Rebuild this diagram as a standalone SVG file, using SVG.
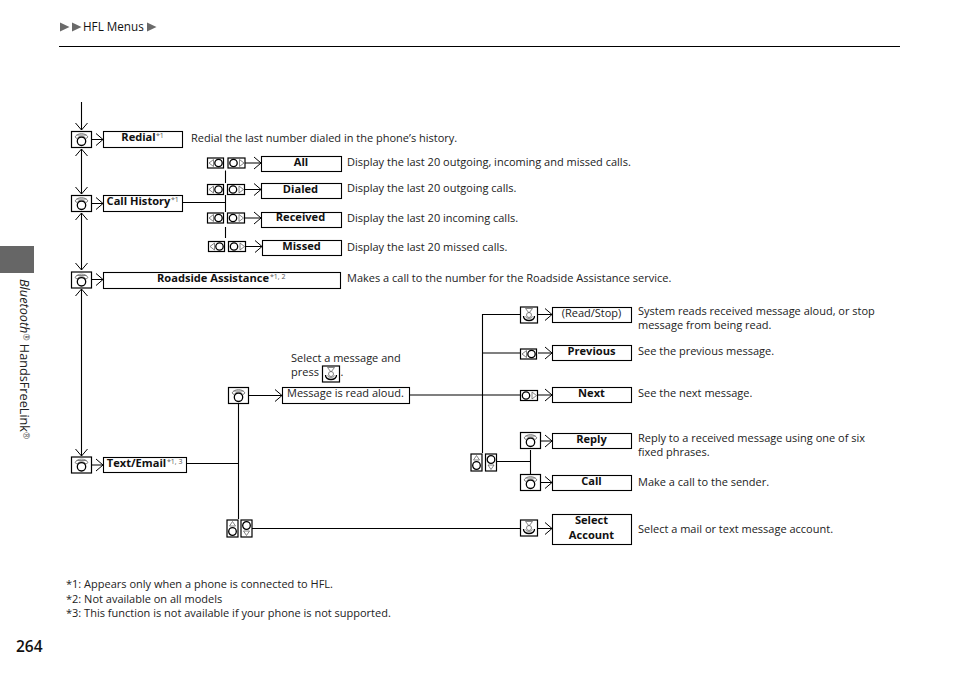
<svg xmlns="http://www.w3.org/2000/svg" width="954" height="674" viewBox="0 0 954 674">
<style>
text{font-family:"Open Sans","Noto Sans","Liberation Sans",sans-serif;font-size:11px;fill:#222}
.b{font-weight:700;text-anchor:middle;fill:#111;font-size:11.100px}
.c{text-anchor:middle}
.s{font-size:7px;font-weight:400;fill:#555}
.box{fill:#fff;stroke:#000;stroke-width:1.1}
.l{fill:none;stroke:#000;stroke-width:1.1}
.i{fill:#fff;stroke:#000;stroke-width:1.2}
.g{fill:none;stroke:#666;stroke-width:.8}
.k{fill:none;stroke:#000;stroke-width:1.300}
</style>
<defs>
<path id="ah" d="M-7,-6 L0,0 L-7,6" fill="none" stroke="#000" stroke-width="1"/>
<g id="phone"><rect class="i" x="0" y="0" width="20" height="16"/><path class="g" d="M3.500,5.500 C6,1 14,1 16.500,5.500 L14.500,7 C12.500,4 7.500,4 5.500,7 Z"/><path class="g" d="M5,3.500 L15,3.500"/><circle class="k" cx="10" cy="9.800" r="4.200"/></g>
<g id="voice"><rect class="i" x="0" y="0" width="17" height="16"/><path class="g" d="M5,1.500 L12,1.500 L8.500,6 Z"/><circle class="g" cx="8.500" cy="8" r="2.500"/><path class="k" d="M3,9 C2.500,15 14.500,15 14,9"/><path class="g" d="M5,9.500 C5.500,12 11.500,12 12,9.500"/></g>
<g id="left"><rect class="i" x="0" y="0" width="16" height="10"/><path class="g" d="M6,1.500 L1.500,5 L6,8.500 Z"/><circle class="k" cx="11" cy="5" r="3.700"/></g>
<g id="right"><rect class="i" x="0" y="0" width="17" height="10"/><path class="g" d="M11.500,1.500 L16,5 L11.500,8.500 Z"/><circle class="k" cx="5.500" cy="5" r="3.700"/></g>
<g id="up"><rect class="i" x="0" y="0" width="11" height="17"/><path class="g" d="M2.500,6 L5.500,1.500 L8.500,6 Z"/><circle class="k" cx="5.500" cy="11.500" r="3.800"/></g>
<g id="down"><rect class="i" x="0" y="0" width="11" height="17"/><path class="g" d="M2.500,11 L5.500,15.500 L8.500,11 Z"/><circle class="k" cx="5.500" cy="5.500" r="3.800"/></g>
<path id="tri" d="M0,0 L9.500,4.500 L0,9 Z" fill="#6a6a6a"/>
</defs>

<g id="page">
<rect x="0" y="246" width="34" height="27" fill="#666"/>
<line x1="59" y1="46.500" x2="900" y2="46.500" stroke="#000" stroke-width="1"/>
<use href="#tri" x="60" y="22.500"/><use href="#tri" x="72" y="22.500"/>
<text x="83" y="31" style="fill:#111;font-size:11.700px">HFL Menus</text>
<use href="#tri" x="147" y="22.500"/>
<text transform="translate(20,279) rotate(90)" style="font-size:12.700px"><tspan font-style="italic">Bluetooth</tspan><tspan class="s" style="font-size:8.500px" dy="-3">®</tspan><tspan dy="3"> HandsFreeLink</tspan><tspan class="s" style="font-size:8.500px" dy="-3">®</tspan></text>
<text x="16" y="652" style="font-size:15.500px;font-weight:600;fill:#111">264</text>
<text x="66" y="588">*1: Appears only when a phone is connected to HFL.</text>
<text x="66" y="603">*2: Not available on all models</text>
<text x="66" y="617">*3: This function is not available if your phone is not supported.</text>
</g>

<g id="connectors">
<path class="l" d="M81.500,102V130M81.500,149V194M81.500,213V270M81.500,289V456"/>
<g id="arrowheads-vertical">
<use href="#ah" transform="translate(81.500,130) rotate(90)"/>
<use href="#ah" transform="translate(81.500,149) rotate(-90)"/>
<use href="#ah" transform="translate(81.500,194) rotate(90)"/>
<use href="#ah" transform="translate(81.500,213) rotate(-90)"/>
<use href="#ah" transform="translate(81.500,270) rotate(90)"/>
<use href="#ah" transform="translate(81.500,289) rotate(-90)"/>
<use href="#ah" transform="translate(81.500,456) rotate(90)"/>
</g>
<path class="l" d="M92,139.500H103M92,203.500H103M92,279.500H103M92,465H103"/>
<use href="#ah" x="103" y="139.500"/><use href="#ah" x="103" y="203.500"/><use href="#ah" x="103" y="279.500"/><use href="#ah" x="103" y="465"/>
<path class="l" d="M183,202.500H225.500M225.500,170.500V183M225.500,195V212M225.500,227V238"/>
<path class="l" d="M245,163H261M244,189.500H261M244,218H261M245,246.500H262"/>
<use href="#ah" x="261" y="163"/><use href="#ah" x="261" y="189.500"/><use href="#ah" x="261" y="218"/><use href="#ah" x="262" y="246.500"/>
<path class="l" d="M186,463.500H238.500M238.500,404V519M249,395.500H282M252,528.500H520"/>
<use href="#ah" x="282" y="395.500"/>
<path class="l" d="M409,395H520M482.500,314V453M482.500,314.500H520M482.500,353H520"/>
<path class="l" d="M497,461.500H530.500M530.500,450V474"/>
<path class="l" d="M538,314.500H552M538,353H552M538,395H552M541,441H552M541,482.500H552M538,528.500H552"/>
<use href="#ah" x="552" y="314.500"/><use href="#ah" x="552" y="353"/><use href="#ah" x="552" y="395"/><use href="#ah" x="552" y="441"/><use href="#ah" x="552" y="482.500"/><use href="#ah" x="552" y="528.500"/>
</g>

<g id="node-redial"><use href="#phone" x="71.500" y="131.500"/><rect class="box" x="103.500" y="131.500" width="79" height="16"/><text class="b" x="138.500" y="141">Redial</text><text class="s" x="156" y="137.500">*1</text><text x="191" y="142">Redial the last number dialed in the phone’s history.</text></g>
<g id="node-callhistory"><use href="#phone" x="71.500" y="195.500"/><rect class="box" x="103.500" y="195.500" width="79" height="16"/><text class="b" x="138.500" y="205">Call History</text><text class="s" x="171" y="201.500">*1</text></g>
<g id="node-all"><use href="#left" x="207.500" y="158"/><use href="#right" x="228" y="158"/><rect class="box" x="261.500" y="156.500" width="80" height="15"/><text class="b" x="301" y="166">All</text><text x="347" y="166">Display the last 20 outgoing, incoming and missed calls.</text></g>
<g id="node-dialed"><use href="#left" x="207.500" y="184.500"/><use href="#right" x="227.500" y="184.500"/><rect class="box" x="261.500" y="183.500" width="80" height="15"/><text class="b" x="300.500" y="193">Dialed</text><text x="347" y="192">Display the last 20 outgoing calls.</text></g>
<g id="node-received"><use href="#left" x="207.500" y="213"/><use href="#right" x="227.500" y="213"/><rect class="box" x="261.500" y="212.500" width="80" height="15"/><text class="b" x="300.500" y="221">Received</text><text x="347" y="222">Display the last 20 incoming calls.</text></g>
<g id="node-missed"><use href="#left" x="208.500" y="241.500"/><use href="#right" x="228.500" y="241.500"/><rect class="box" x="262.500" y="240.500" width="79" height="15"/><text class="b" x="301.500" y="250">Missed</text><text x="347" y="251">Display the last 20 missed calls.</text></g>
<g id="node-roadside"><use href="#phone" x="71.500" y="272"/><rect class="box" x="103.500" y="272.500" width="237" height="16"/><text class="b" x="213" y="282">Roadside Assistance</text><text class="s" x="270" y="278.500">*1, 2</text><text x="347" y="282">Makes a call to the number for the Roadside Assistance service.</text></g>
<g id="node-textemail"><use href="#phone" x="71.500" y="457"/><rect class="box" x="103.500" y="457.500" width="83" height="15"/><text class="b" x="136.500" y="467">Text/Email</text><text class="s" x="167" y="464">*1, 3</text></g>
<g id="node-phone-message"><use href="#phone" x="228.500" y="387.500"/><rect class="box" x="282.500" y="387.500" width="127" height="16"/><text x="287" y="397">Message is read aloud.</text><text x="291" y="362">Select a message and</text><text x="291" y="376">press</text><use href="#voice" x="322.500" y="366"/><text x="340.500" y="376">.</text></g>
<g id="node-updown-account"><use href="#up" x="227" y="520"/><use href="#down" x="241" y="520"/></g>
<g id="node-readstop"><use href="#voice" x="520.500" y="307"/><rect class="box" x="552.500" y="307.500" width="79" height="15"/><text class="c" x="591.500" y="317">(Read/Stop)</text><text x="638" y="315">System reads received message aloud, or stop</text><text x="638" y="329">message from being read.</text></g>
<g id="node-previous"><use href="#left" x="520.500" y="349"/><rect class="box" x="552.500" y="345.500" width="79" height="15"/><text class="b" x="591.500" y="355">Previous</text><text x="638" y="355">See the previous message.</text></g>
<g id="node-next"><use href="#right" x="520.500" y="390.500"/><rect class="box" x="552.500" y="387.500" width="79" height="15"/><text class="b" x="591.500" y="397">Next</text><text x="638" y="397">See the next message.</text></g>
<g id="node-updown-reply"><use href="#up" x="471" y="454"/><use href="#down" x="485.500" y="454"/></g>
<g id="node-reply"><use href="#phone" x="520.500" y="432.500"/><rect class="box" x="552.500" y="433.500" width="79" height="15"/><text class="b" x="591.500" y="443">Reply</text><text x="638" y="442">Reply to a received message using one of six</text><text x="638" y="456">fixed phrases.</text></g>
<g id="node-call"><use href="#phone" x="520.500" y="474.500"/><rect class="box" x="552.500" y="475.500" width="79" height="15"/><text class="b" x="591.500" y="485">Call</text><text x="638" y="486">Make a call to the sender.</text></g>
<g id="node-account"><use href="#voice" x="520.500" y="520"/><rect class="box" x="552.500" y="514.500" width="79" height="30"/><text class="b" x="591.500" y="524">Select</text><text class="b" x="591.500" y="539">Account</text><text x="638" y="533">Select a mail or text message account.</text></g>
</svg>
